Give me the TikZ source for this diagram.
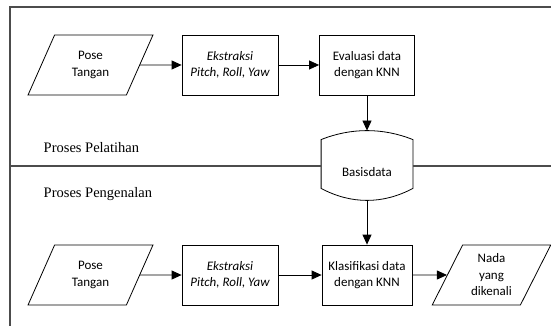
\documentclass[tikz,border=0pt]{standalone}
\usepackage{fontspec}
\setmainfont{Carlito}
\newfontfamily\labelfont{Liberation Serif}
\usetikzlibrary{shapes.geometric,arrows.meta}

\begin{document}
\begin{tikzpicture}[x=1pt,y=-1pt]
    \tikzset{every node/.style={draw=black,line width=0.8pt,align=center,font=\fontsize{13}{16.5}\selectfont}}
    \tikzset{proc/.style={rectangle,minimum width=95,minimum height=60,inner sep=1pt}}
    \tikzset{io/.style={trapezium,trapezium left angle=63,trapezium right angle=117,trapezium stretches=true,minimum height=60,inner sep=0pt}}
    \tikzset{lane/.style={draw=none,anchor=base west,font=\labelfont\fontsize{14.5}{17}\selectfont}}
    \tikzset{edge/.style={line width=0.8pt,-{Triangle[length=10pt,width=9pt]}}}
    \tikzset{frame/.style={draw=black!70,line width=1.3pt}}

    \useasboundingbox (0,0) rectangle (551,326);

    % training row
    \node[io,minimum width=125] (11) at (90.5, 65) {Pose\\Tangan};
    \node[proc,minimum width=96] (12) at (230, 65) {\itshape Ekstraksi\\\itshape Pitch, Roll, Yaw};
    \node[proc] (13) at (367, 65) {Evaluasi data\\dengan KNN};

    % database between both rows
    \node[draw=none,minimum width=91,minimum height=69,inner sep=0pt] (db) at (367, 165.5)
        {\raisebox{-7pt}[\height][\depth]{Basisdata}};
    \draw[line width=0.8pt] ([yshift=-9pt]db.north west)
        .. controls +(30,-12) and +(-30,-12) .. ([yshift=-9pt]db.north east)
        -- ([yshift=12pt]db.south east)
        .. controls +(-30,16) and +(30,16) .. ([yshift=12pt]db.south west) -- cycle;

    % recognition row
    \node[io,minimum width=125] (21) at (90.5, 275) {Pose\\Tangan};
    \node[proc,minimum width=96] (22) at (230, 275) {\itshape Ekstraksi\\\itshape Pitch, Roll, Yaw};
    \node[proc,minimum width=90] (23) at (367, 275) {Klasifikasi data\\dengan KNN};
    \node[io,minimum width=119] (24) at (491.5, 275) {Nada\\yang\\dikenali};

    % lanes
    \coordinate (corner) at (10, 7);
    \coordinate (div) at (10, 166);
    \draw[frame] (10, 326) -- (corner) -- (551, 7);
    \draw[frame] (div) -- (div -| db.west);
    \draw[frame] (db.east |- div) -- (551, 166);
    \node[lane] (lane1) at (40, 152) {Proses Pelatihan};
    \node[lane] (lane2) at (40, 197) {Proses Pengenalan};

    \begin{scope}[every path/.style={edge}]
       \draw (11) -- (12);
       \draw (12) -- (13);
       \draw (13) -- (db);
       \draw (db) -- (23);
       \draw (21) -- (22);
       \draw (22) -- (23);
       \draw (23) -- (24);
    \end{scope}
\end{tikzpicture}
\end{document}
